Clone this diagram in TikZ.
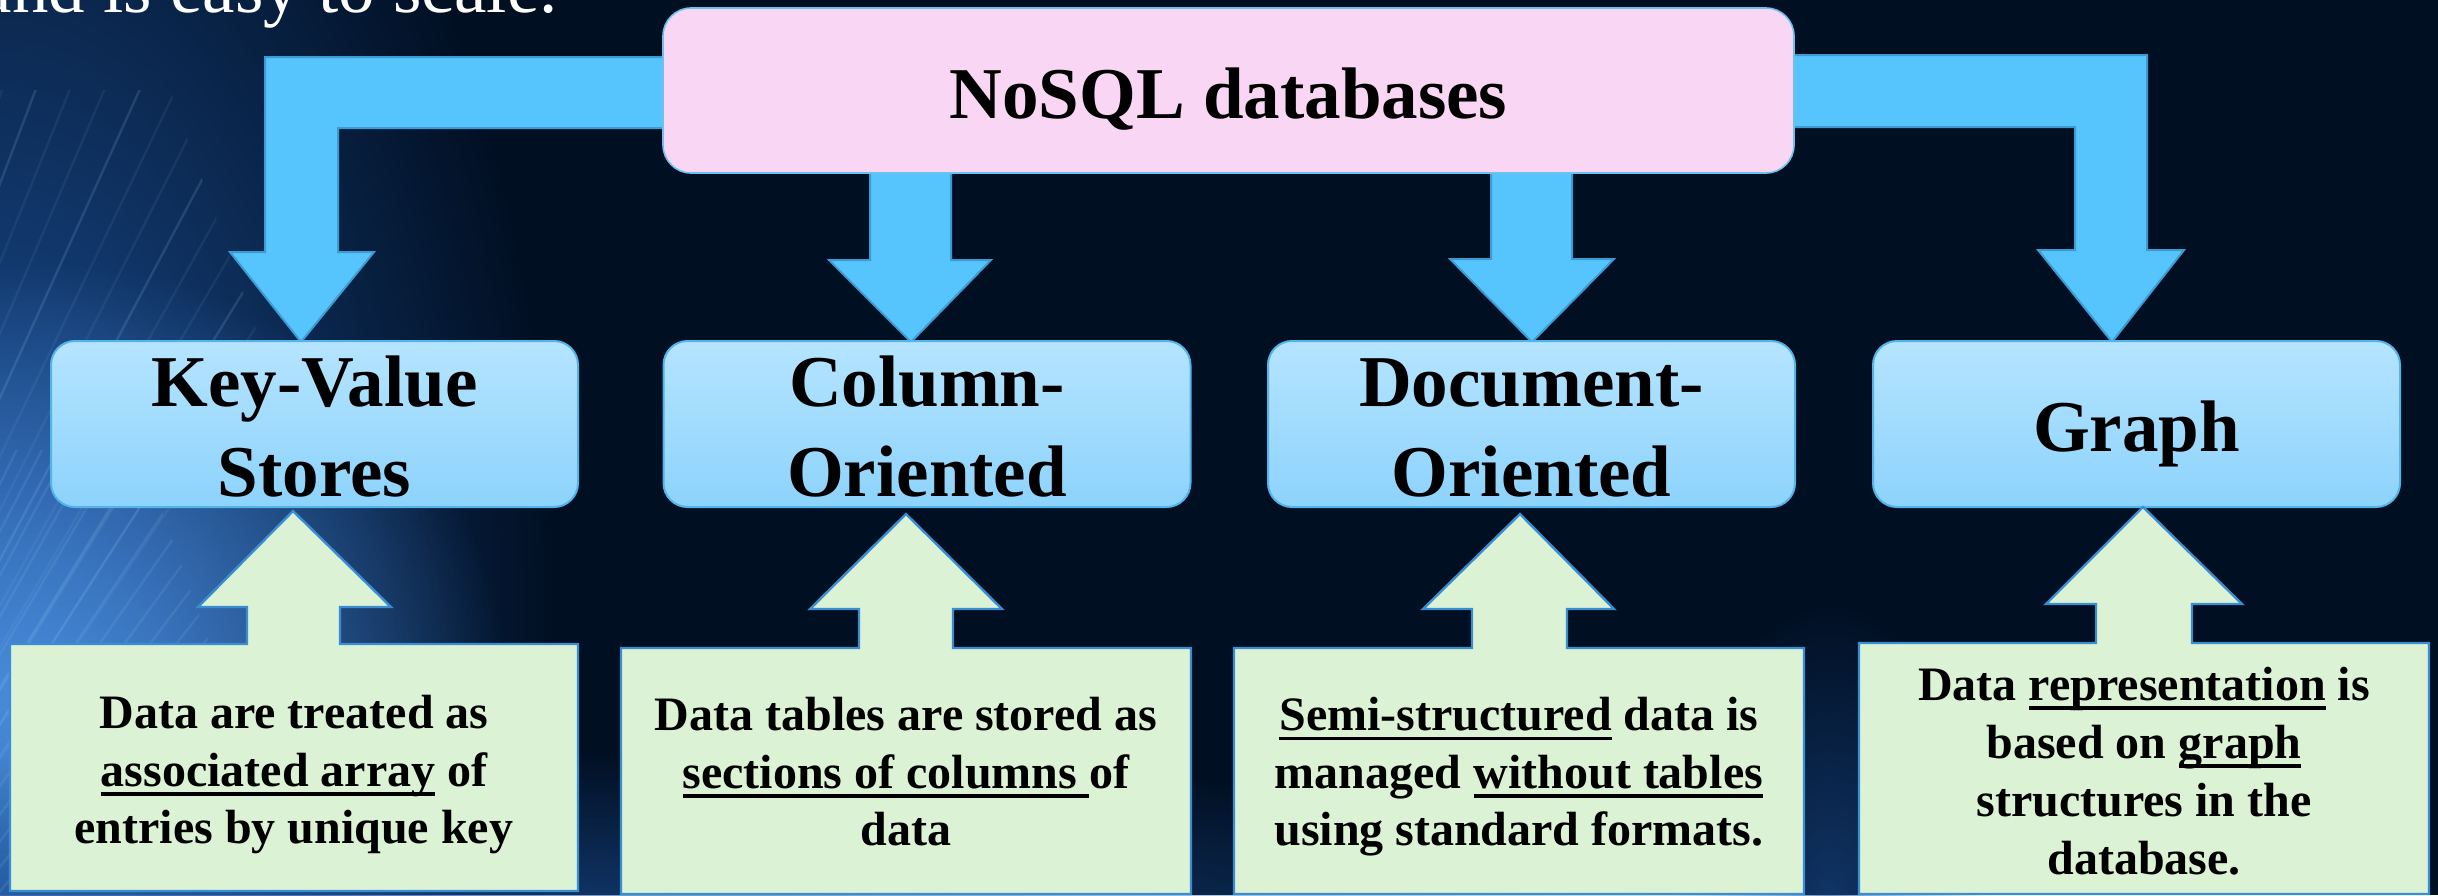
\documentclass[tikz,border=0pt]{standalone}
\usepackage{fontspec}
\setmainfont{Liberation Serif}
\usetikzlibrary{fadings}

\definecolor{bgnavy}{HTML}{010F22}
\definecolor{glowblue}{HTML}{4A8CDC}
\definecolor{deepblue}{HTML}{1B4E94}
\definecolor{streak}{HTML}{9CCAF6}
\definecolor{pinkfill}{HTML}{F9D6F3}
\definecolor{pinkline}{HTML}{6CC2EE}
\definecolor{arrowfill}{HTML}{57C5FD}
\definecolor{arrowline}{HTML}{3D9AD3}
\definecolor{boxtop}{HTML}{B5E4FF}
\definecolor{boxbot}{HTML}{8DD3FC}
\definecolor{boxline}{HTML}{52B4EA}
\definecolor{notefill}{HTML}{DCF2D5}
\definecolor{noteline}{HTML}{3A8DD0}

% soft radial light used for the background glow
\tikzfading[name=softglow, inner color=transparent!0, outer color=transparent!100]

% thick underline
\newcommand\undl[1]{\setbox0=\hbox{#1}\rlap{\rule[-0.2em]{\wd0}{0.07em}}\box0\relax}
% invisible struts fixing the first-line height and last-line depth of notes
\newcommand\topstrut{\rule{0pt}{17pt}}
\newcommand\botstrut{\rule[-6pt]{0pt}{6pt}}

\tikzset{
  bigfont/.style={font=\fontsize{36.5pt}{45pt}\selectfont\bfseries, text=black},
  rootbox/.style={bigfont, draw=pinkline, line width=0.8pt, fill=pinkfill,
    rounded corners=14pt, minimum width=565.5pt, minimum height=82.5pt,
    text height=27.5pt, text depth=0pt, inner sep=0pt},
  catbox/.style={bigfont, align=center, draw=boxline, line width=1pt,
    top color=boxtop, bottom color=boxbot, rounded corners=12pt,
    minimum width=263.5pt, minimum height=83pt, inner sep=0pt},
  flowarrow/.style={fill=arrowfill, draw=arrowline, line width=1pt, line join=miter},
  notebox/.style={fill=notefill, draw=noteline, line width=1.2pt, line join=miter},
  notetext/.style={font=\fontsize{24pt}{28.75pt}\selectfont\bfseries,
    align=center, inner sep=0pt, text=black},
}

\begin{document}
\begin{tikzpicture}[x=0.5pt,y=-0.5pt]
\useasboundingbox (0,0) rectangle (2438,895);

% ---- background ----
\fill[bgnavy] (0,0) rectangle (2438,895);
\begin{scope}
  \clip (0,0) rectangle (2438,895);
  \fill[deepblue, path fading=softglow] (0,620) ellipse (560 and 1050);
  \fill[glowblue, path fading=softglow] (30,700) ellipse (480 and 440);
  \fill[deepblue, path fading=softglow, opacity=0.8] (450,950) ellipse (1500 and 200);
  \fill[deepblue, path fading=softglow, opacity=0.6] (1830,900) ellipse (160 and 300);
  \begin{scope}
    \clip (0,90) -- (170,90) -- (460,895) -- (0,895) -- cycle;
    \foreach \a [count=\i] in {56,57.2,...,86} {
      \pgfmathsetmacro\op{mod(\i,3)==0 ? 0.16 : 0.08}
      \draw[streak, opacity=\op, line width=1.2pt] (-500,1500) -- ++(-\a:2400);
    }
  \end{scope}
  \begin{scope}
    \clip (0,450) -- (140,450) -- (300,895) -- (0,895) -- cycle;
    \foreach \a in {50.6,51.7,...,66} {
      \draw[streak, opacity=0.12, line width=1.2pt] (-500,1500) -- ++(-\a:2400);
    }
  \end{scope}
\end{scope}

% ---- slide text above the diagram ----
\node[font=\fontsize{36.5pt}{40pt}\selectfont, text=white, anchor=base east,
  inner sep=0pt] (tagline) at (558,12) {and is easy to scale.};

% ---- block arrows from the root ----
\draw[flowarrow] (700,57) -- (265,57) -- (265,252) -- (230,252) -- (301,342)
  -- (374,252) -- (338,252) -- (338,128) -- (700,128) -- cycle;
\draw[flowarrow] (870,160) -- (870,260) -- (829,260) -- (911,342) -- (991,260)
  -- (951,260) -- (951,160) -- cycle;
\draw[flowarrow] (1491,160) -- (1491,259) -- (1450,259) -- (1532,342) -- (1614,259)
  -- (1572,259) -- (1572,160) -- cycle;
\draw[flowarrow] (1760,55) -- (2147,55) -- (2147,250) -- (2184,250) -- (2112,342)
  -- (2038,250) -- (2075,250) -- (2075,127) -- (1760,127) -- cycle;

% ---- root and categories ----
\node[rootbox] (root) at (1228.5,90.5) {NoSQL databases};
\node[catbox] (kv) at (314.5,424) {\rule{0pt}{28pt}Key-Value\\Stores};
\node[catbox] (col) at (927,424) {\rule{0pt}{28pt}Column-\\Oriented};
\node[catbox] (doc) at (1531.5,424) {\rule{0pt}{28pt}Document-\\Oriented};
\node[catbox, text height=27pt, text depth=0pt] (graph) at (2136.5,424) {Graph};

% ---- description callouts ----
\draw[notebox] (10,891) -- (10,644) -- (247,644) -- (247,607) -- (198,607)
  -- (293,511) -- (391,607) -- (340,607) -- (340,644) -- (578,644) -- (578,891) -- cycle;
\draw[notebox] (621,894) -- (621,648) -- (859,648) -- (859,609) -- (810,609)
  -- (906,514) -- (1002,609) -- (953,609) -- (953,648) -- (1191,648) -- (1191,894) -- cycle;
\draw[notebox] (1234,894) -- (1234,648) -- (1472,648) -- (1472,609) -- (1423,609)
  -- (1520,514) -- (1614,609) -- (1567,609) -- (1567,648) -- (1804,648) -- (1804,894) -- cycle;
\draw[notebox] (1859,894) -- (1859,643) -- (2096,643) -- (2096,604) -- (2046,604)
  -- (2143,507) -- (2242,604) -- (2192,604) -- (2192,643) -- (2429,643) -- (2429,894) -- cycle;

\node[notetext] (kvnote) at (294,775)
  {\topstrut Data are treated as\\\undl{associated array} of\\entries by unique key\botstrut};
\node[notetext] (colnote) at (906,777)
  {\topstrut Data tables are stored as\\\undl{sections of columns\ }of\\data\botstrut};
\node[notetext] (docnote) at (1519,777)
  {\topstrut\undl{Semi-structured} data is\\managed \undl{without tables}\\using standard formats.\botstrut};
\node[notetext, font=\fontsize{24pt}{29pt}\selectfont\bfseries] (graphnote) at (2144,776)
  {\topstrut Data \undl{representation} is\\based on \undl{graph}\\structures in the\\database.\botstrut};
\end{tikzpicture}
\end{document}
